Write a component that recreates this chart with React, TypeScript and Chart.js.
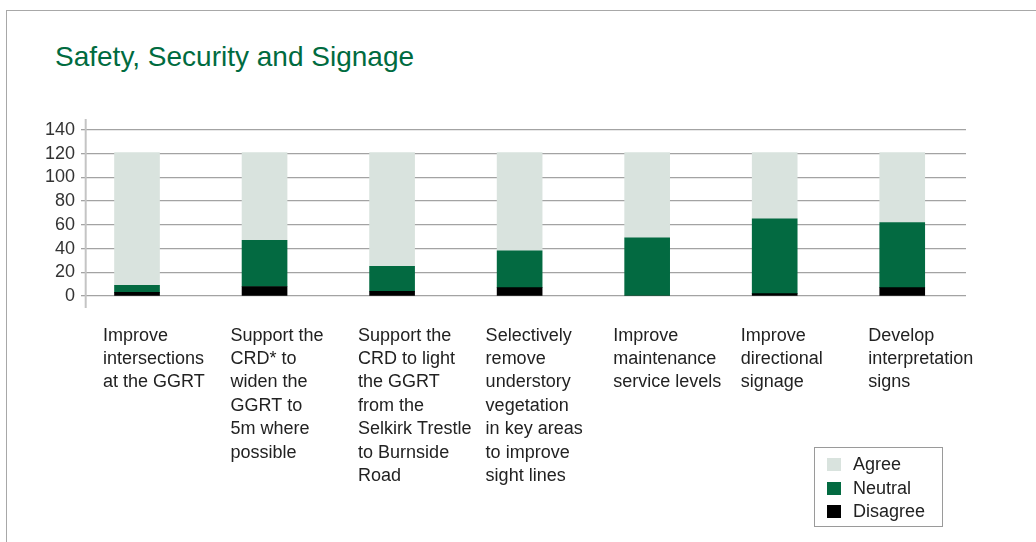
import React, { useEffect, useRef } from "react";
import { Chart, registerables } from "chart.js";

Chart.register(...registerables);

const title = "Safety, Security and Signage";

const categories: string[][] = [
  ["Improve", "intersections", "at the GGRT"],
  ["Support the", "CRD* to", "widen the", "GGRT to", "5m where", "possible"],
  ["Support the", "CRD to light", "the GGRT", "from the", "Selkirk Trestle", "to Burnside", "Road"],
  ["Selectively", "remove", "understory", "vegetation", "in key areas", "to improve", "sight lines"],
  ["Improve", "maintenance", "service levels"],
  ["Improve", "directional", "signage"],
  ["Develop", "interpretation", "signs"],
];

const disagree = [3, 8, 4, 7, 0, 2, 7];
const neutral = [6, 39, 21, 31, 49, 63, 55];
const agree = [112, 74, 96, 83, 72, 56, 59];

const yMin = 0;
const yMax = 140;
const yStep = 20;

const seriesNames = ["Agree", "Neutral", "Disagree"];
const seriesColors: Record<string, string> = {
  Agree: "#d9e3de",
  Neutral: "#036a41",
  Disagree: "#000000",
};

const FONT = '"Liberation Sans", Arial, Helvetica, sans-serif';

export default function App() {
  const ref = useRef<HTMLCanvasElement>(null);

  useEffect(() => {
    if (!ref.current) return;

    const axisLine = {
      id: "axisLine",
      afterDraw(chart: any) {
        const { ctx, chartArea } = chart;
        ctx.save();
        ctx.strokeStyle = "#c4c4c4";
        ctx.lineWidth = 2;
        ctx.beginPath();
        ctx.moveTo(chartArea.left - 0.3, chartArea.top - 11);
        ctx.lineTo(chartArea.left - 0.3, chartArea.bottom + 12);
        ctx.stroke();
        ctx.restore();
      },
    };

    const toPoints = (arr: number[]) => arr.map((v, i) => ({ x: i, y: v }));

    const chart = new Chart(ref.current, {
      type: "bar",
      data: {
        datasets: [
          { label: "Disagree", data: toPoints(disagree), backgroundColor: seriesColors.Disagree, barThickness: 45 },
          { label: "Neutral", data: toPoints(neutral), backgroundColor: seriesColors.Neutral, barThickness: 45 },
          { label: "Agree", data: toPoints(agree), backgroundColor: seriesColors.Agree, barThickness: 45 },
        ] as any,
      },
      options: {
        responsive: false,
        animation: false,
        devicePixelRatio: 1,
        layout: { padding: { top: 130, right: 70, bottom: 0, left: 0 } },
        plugins: {
          legend: { display: false },
          tooltip: { enabled: false },
          title: { display: false },
        },
        scales: {
          x: {
            type: "linear",
            min: -0.4,
            max: 6.5,
            bounds: "data",
            offset: false,
            stacked: true,
            grid: { display: false, drawTicks: false, offset: false },
            border: { display: false },
            afterBuildTicks: (s: any) => {
              s.ticks = categories.map((_, i) => ({ value: i }));
            },
            ticks: {
              autoSkip: false,
              maxRotation: 0,
              minRotation: 0,
              align: "start",
              labelOffset: -34,
              padding: 28,
              color: "#222222",
              font: { family: FONT, size: 18, lineHeight: 1.3 },
              callback: (v: any) => categories[Math.round(v as number)] ?? "",
            },
            afterFit: (s: any) => {
              s.height = 246;
              s.paddingLeft = 0;
              s.paddingRight = 0;
            },
          } as any,
          y: {
            min: yMin,
            max: yMax,
            stacked: true,
            z: 1,
            grid: { color: "#a3a3a3", lineWidth: 1.3, tickLength: 5, drawTicks: true },
            border: { display: false },
            ticks: {
              stepSize: yStep,
              autoSkip: false,
              padding: 6,
              color: "#333333",
              font: { family: FONT, size: 18 },
            },
            afterFit: (s: any) => {
              s.width = 86;
            },
          } as any,
        },
      },
      plugins: [axisLine],
    });

    return () => chart.destroy();
  }, []);

  return (
    <div style={{ position: "fixed", left: 0, top: 0, width: 1036, height: 542, background: "#fff", overflow: "hidden" }}>
      <div
        style={{
          position: "absolute",
          left: 6,
          top: 10,
          width: 1040,
          height: 540,
          borderLeft: "1px solid #a8a8a8",
          borderTop: "1px solid #a8a8a8",
        }}
      />
      <div
        style={{
          position: "absolute",
          left: 55,
          top: 43,
          fontFamily: FONT,
          fontSize: 28,
          lineHeight: "28px",
          color: "#006b3f",
          whiteSpace: "nowrap",
        }}
      >
        {title}
      </div>
      <canvas ref={ref} width={1036} height={542} style={{ position: "absolute", left: 0, top: 0 }} />
      <div
        style={{
          position: "absolute",
          left: 814,
          top: 447,
          width: 129,
          height: 80,
          border: "1px solid #9a9a9a",
          boxSizing: "border-box",
          paddingTop: 5,
          fontFamily: FONT,
          fontSize: 18,
          color: "#222",
        }}
      >
        {seriesNames.map((n) => (
          <div key={n} style={{ display: "flex", alignItems: "center", height: 23.5 }}>
            <span
              style={{
                display: "inline-block",
                width: 14,
                height: 13,
                marginLeft: 12,
                marginRight: 12,
                background: seriesColors[n],
              }}
            />
            <span>{n}</span>
          </div>
        ))}
      </div>
    </div>
  );
}
